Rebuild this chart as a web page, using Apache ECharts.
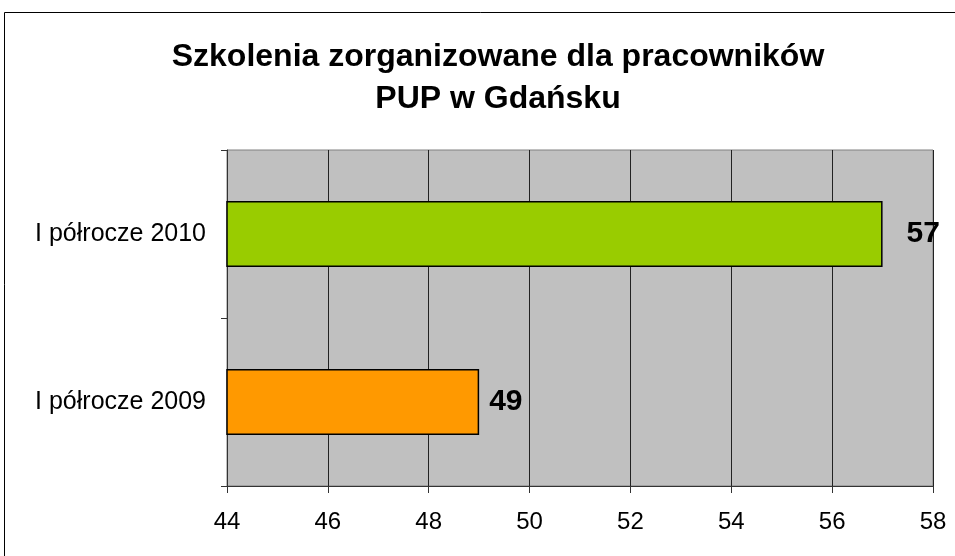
<!DOCTYPE html>
<html>
<head>
<meta charset="utf-8">
<script src="https://cdn.jsdelivr.net/npm/echarts@6/dist/echarts.min.js"></script>
<style>
  html, body { margin: 0; padding: 0; background: #fff; }
  #chart { width: 955px; height: 556px; }
</style>
</head>
<body>
<div id="chart"></div>
<script>
'use strict';

// dane
var categories = ['I półrocze 2009', 'I półrocze 2010'];
var values = [49, 57];
var barColors = ['#FF9900', '#99CC00'];
var labelGaps = [10, 24];
var titleText = 'Szkolenia zorganizowane dla pracowników\nPUP w Gdańsku';

var FONT = '"Liberation Sans", Arial, sans-serif';

var chart = echarts.init(document.getElementById('chart'));

var chartOptions = {
    animation: false,
    backgroundColor: '#fff',
    title: {
        text: titleText,
        left: 493,
        top: 31,
        textAlign: 'center',
        textStyle: {
            fontFamily: FONT,
            fontSize: 32,
            fontWeight: 'bold',
            color: '#000',
            lineHeight: 42,
            align: 'center'
        }
    },
    graphic: [{
        type: 'rect',
        shape: { x: 4.5, y: 12.5, width: 960, height: 560 },
        style: { fill: null, stroke: '#000', lineWidth: 1 },
        silent: true
    }],
    grid: {
        left: 227,
        right: 22,
        top: 150,
        bottom: 70,
        show: true,
        backgroundColor: '#C0C0C0',
        borderColor: '#808080',
        borderWidth: 1
    },
    xAxis: {
        type: 'value',
        min: 44,
        max: 58,
        interval: 2,
        axisLine: { show: true, lineStyle: { color: '#333', width: 1 } },
        axisTick: { show: true, length: 7, lineStyle: { color: '#333' } },
        axisLabel: {
            fontFamily: FONT,
            fontSize: 24,
            color: '#000',
            margin: 24
        },
        splitLine: { show: true, lineStyle: { color: '#222', width: 1 } }
    },
    yAxis: {
        type: 'category',
        data: categories,
        axisLine: { show: true, lineStyle: { color: '#333', width: 1 } },
        axisTick: { show: true, length: 6, lineStyle: { color: '#333' } },
        axisLabel: {
            fontFamily: FONT,
            fontSize: 25,
            color: '#000',
            margin: 21
        },
        splitLine: { show: false }
    },
    series: [{
        type: 'bar',
        barWidth: 66,
        data: values.map(function (v, i) {
            return {
                value: v,
                itemStyle: { color: barColors[i] },
                label: { distance: labelGaps[i] }
            };
        }),
        itemStyle: { borderColor: '#000', borderWidth: 1.5 },
        label: {
            show: true,
            position: 'right',
            fontFamily: FONT,
            fontSize: 30,
            fontWeight: 'bold',
            color: '#000'
        }
    }]
};

chart.setOption(chartOptions);
</script>
</body>
</html>
